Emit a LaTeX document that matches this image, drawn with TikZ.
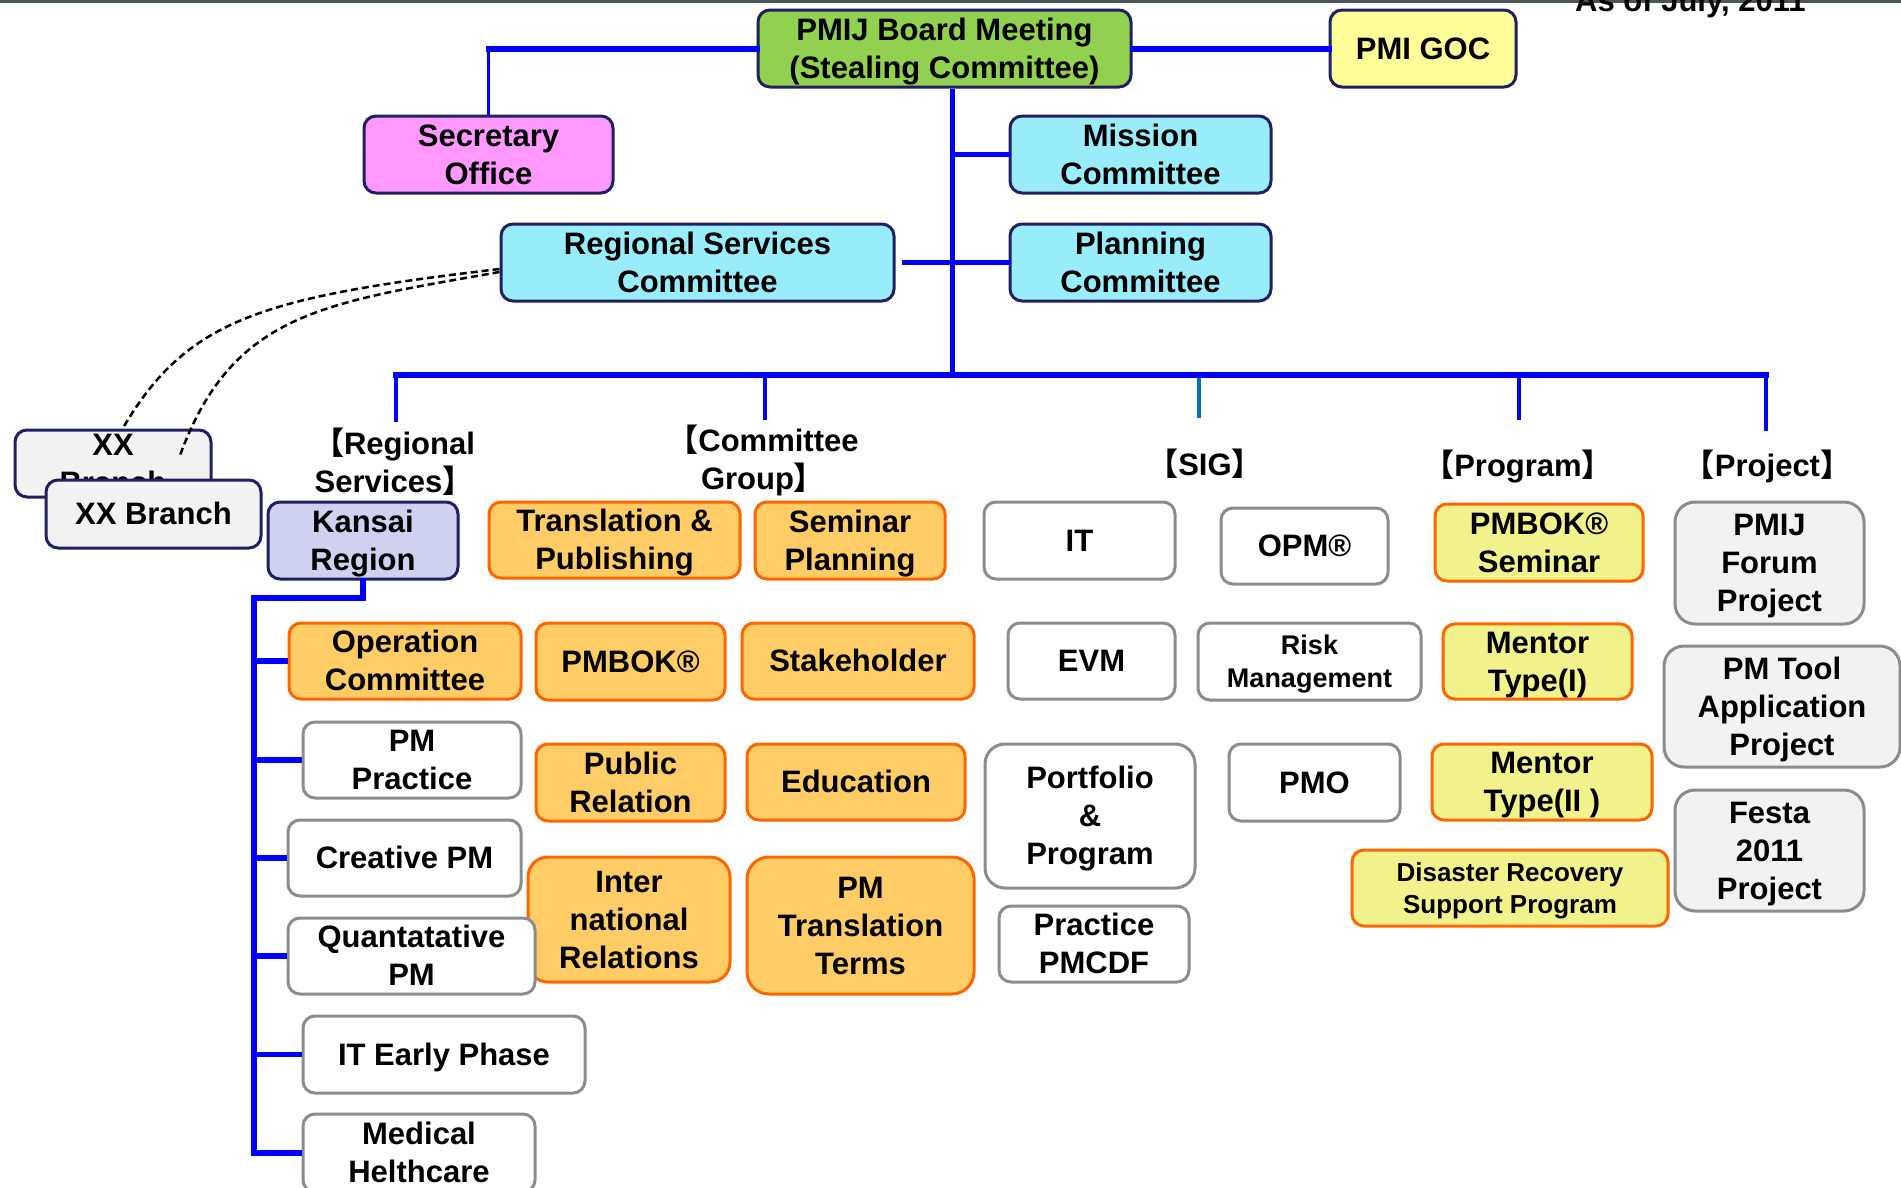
\documentclass[tikz,border=0pt]{standalone}
\usepackage{fontspec}
\setmainfont{Liberation Sans}
\newfontfamily\cjk{Noto Sans CJK JP}
\usetikzlibrary{calc}
\definecolor{lineblue}{HTML}{0000FF}
\definecolor{sigblue}{HTML}{0070C0}
\definecolor{navyb}{HTML}{202060}
\definecolor{boardgreen}{HTML}{92D050}
\definecolor{gocyellow}{HTML}{FFFF99}
\definecolor{secpink}{HTML}{FF99FF}
\definecolor{cyanfill}{HTML}{99ECFA}
\definecolor{lavfill}{HTML}{D0D0F0}
\definecolor{orfill}{HTML}{FFCC66}
\definecolor{orborder}{HTML}{FF6600}
\definecolor{yefill}{HTML}{F2F28C}
\definecolor{grfill}{HTML}{F2F2F2}
\definecolor{grborder}{HTML}{8C8C8C}
\definecolor{topbar}{HTML}{4A5555}
\newcommand\bxs{\rule[-0.25em]{0pt}{1.2em}}
\newcommand\mybox[7]{\node[#2,minimum width=#5pt,minimum height=#6pt] (#1) at (#3,#4) {\bxs #7\bxs};}
\tikzset{
  basebox/.style={rounded corners=12pt, line width=3pt, inner sep=0pt, align=center,
    font=\fontsize{31}{38}\selectfont\bfseries, text=black},
  greenbox/.style={basebox, draw=navyb, fill=boardgreen},
  gocbox/.style={basebox, draw=navyb, fill=gocyellow},
  pinkbox/.style={basebox, draw=navyb, fill=secpink},
  cyanbox/.style={basebox, draw=navyb, fill=cyanfill},
  xxbox/.style={basebox, draw=navyb, fill=grfill},
  lavbox/.style={basebox, draw=navyb, fill=lavfill},
  orbox/.style={basebox, draw=orborder, fill=orfill},
  yebox/.style={basebox, draw=orborder, fill=yefill},
  whbox/.style={basebox, draw=grborder, fill=white},
  prbox/.style={basebox, draw=grborder, fill=grfill, rounded corners=20pt},
  smallfont/.style={font=\fontsize{27}{33}\selectfont\bfseries},
  tinyfont/.style={font=\fontsize{26}{32}\selectfont\bfseries},
  lab/.style={align=center, inner sep=0pt, font=\fontsize{31}{38}\selectfont\bfseries, text=black},
  conn/.style={draw=lineblue, line width=5pt, line cap=rect},
  connthick/.style={draw=lineblue, line width=6pt, line cap=rect},
  connthin/.style={draw=lineblue, line width=3.5pt},
  busline/.style={draw=lineblue, line width=6pt, line cap=rect},
  dropline/.style={draw=lineblue, line width=4.5pt},
  kline/.style={draw=lineblue, line width=5.5pt, line cap=rect, line join=miter},
  dashline/.style={draw=black, line width=2.5pt, dash pattern=on 7pt off 4pt},
}
\begin{document}
\begin{tikzpicture}[x=1pt,y=-1pt]
\useasboundingbox (0,0) rectangle (1901,1187);
\fill[white] (0,0) rectangle (1901,1187);
\fill[topbar] (0,0) rectangle (1901,2.5);
\node[lab, anchor=base west] (asof) at (1575,11.5) {As of July, 2011};

% top level
\mybox{board}{greenbox}{944.5}{48.5}{373}{77}{PMIJ Board Meeting\\(Stealing Committee)}
\mybox{goc}{gocbox}{1423}{48.5}{186}{77}{PMI GOC}
\mybox{sec}{pinkbox}{488.5}{154.5}{249}{77}{Secretary\\Office}
\mybox{mission}{cyanbox}{1140.5}{154.5}{261}{77}{Mission\\Committee}
\mybox{rsc}{cyanbox}{697.5}{262.5}{393}{77}{Regional Services\\Committee}
\mybox{planning}{cyanbox}{1140.5}{262.5}{261}{77}{Planning\\Committee}

% branches
\node[xxbox, minimum width=196pt, minimum height=67pt] (xxback) at (113,463.5) {};
\node[lab] (xxbackt) at (xxback.center) {\bxs XX\\Branch\bxs};
\coordinate (xxe1) at (123,428);
\coordinate (xxe2) at (179,458);
\draw[dashline] ([yshift=-6.5pt]rsc.west) .. controls (262,297) and (187,319) .. (xxe1);
\draw[dashline] ([yshift=-9.5pt]rsc.west) .. controls (321,303.5) and (231.5,313) .. (xxe2);
\mybox{xxfront}{xxbox}{153.5}{514}{215}{68}{XX Branch}

% group labels
\node[lab] (lreg) at (394,462.5) {\bxs{\cjk 【}Regional\\Services{\cjk 】}\bxs};
\node[lab] (lcom) at (763,459.5) {\bxs{\cjk 【}Committee\\Group{\cjk 】}\bxs};
\node[lab] (lsig) at (1205,465) {\bxs{\cjk 【}SIG{\cjk 】}\bxs};
\node[lab] (lprog) at (1518,466) {\bxs{\cjk 【}Program{\cjk 】}\bxs};
\node[lab] (lproj) at (1767.5,466) {\bxs{\cjk 【}Project{\cjk 】}\bxs};

% row 1
\mybox{kansai}{lavbox}{363}{540.5}{190}{77}{Kansai\\Region}
\mybox{transpub}{orbox}{614.5}{540}{251}{76}{Translation \&\\Publishing}
\mybox{seminar}{orbox}{850}{540.5}{190}{77}{Seminar\\Planning}
\mybox{it}{whbox}{1079.5}{540.5}{191}{77}{IT}
\mybox{opm}{whbox}{1304.5}{546}{167}{76}{OPM®}
\mybox{pmbsem}{yebox}{1539}{542.5}{208}{77}{PMBOK®\\Seminar}
\mybox{forum}{prbox}{1769.5}{563}{189}{122}{PMIJ\\Forum\\Project}

% row 2
\mybox{op}{orbox}{405}{661}{232}{76}{Operation\\Committee}
\mybox{pmbok}{orbox}{630.5}{661.5}{189}{77}{PMBOK®}
\mybox{stake}{orbox}{858}{661}{232}{76}{Stakeholder}
\mybox{evm}{whbox}{1091.5}{661}{167}{76}{EVM}
\mybox{risk}{whbox,smallfont}{1309.5}{661.5}{223}{77}{Risk\\Management}
\mybox{mentor1}{yebox}{1537.5}{661.5}{189}{75}{Mentor\\Type(I)}
\mybox{pmtool}{prbox}{1782}{706.5}{236}{121}{PM Tool\\Application\\Project}

% row 3
\mybox{pmp}{whbox}{412}{760}{218}{76}{PM\\Practice}
\mybox{public}{orbox}{630.5}{782.5}{189}{77}{Public\\Relation}
\mybox{edu}{orbox}{856}{782}{218}{76}{Education}
\mybox{portfolio}{whbox,rounded corners=20pt}{1090}{816}{210}{144}{Portfolio\\\&\\Program}
\mybox{pmo}{whbox}{1314.5}{782.5}{171}{77}{PMO}
\mybox{mentor2}{yebox}{1542}{782}{220}{76}{Mentor\\Type(II )}
\mybox{festa}{prbox}{1769.5}{850.5}{189}{121}{Festa\\2011\\Project}

% row 4+
\mybox{cre}{whbox}{404.5}{858}{233}{76}{Creative PM}
\mybox{inter}{orbox,rounded corners=20pt}{629}{919.5}{202}{125}{Inter\\national\\Relations}
\mybox{pmtt}{orbox,rounded corners=22pt}{860.5}{925.5}{227}{137}{PM\\Translation\\Terms}
\mybox{pmcdf}{whbox}{1094}{944}{190}{76}{Practice\\PMCDF}
\mybox{disaster}{yebox,tinyfont}{1510}{888}{316}{76}{Disaster Recovery\\Support Program}
\mybox{qua}{whbox}{411.5}{956}{247}{76}{Quantatative\\PM}
\mybox{ite}{whbox}{444}{1054.5}{282}{77}{IT Early Phase}
\mybox{med}{whbox}{419}{1153}{232}{78}{Medical\\Helthcare}

% connectors top
\coordinate (jsec) at (sec.north |- board.west);
\draw[connthick] (board.west) -- (jsec);
\draw[connthin] (jsec) -- (sec.north);
\draw[connthick] (board.east) -- (goc.west);
\coordinate (tb) at (952,375);
\draw[conn, line cap=butt] (board.south -| tb) -- (tb);
\draw[conn] (tb |- mission.west) -- (mission.west);
\draw[conn] ([xshift=9pt]rsc.east) -- (planning.west);

% bus and drops
\coordinate (b1) at (396,375);
\coordinate (b2) at (765,375);
\coordinate (b3) at (1199,375);
\coordinate (b4) at (1519,375);
\coordinate (b5) at (1766,375);
\coordinate (e1) at (396,422);
\coordinate (e2) at (765,420);
\coordinate (e3) at (1199,418);
\coordinate (e4) at (1519,420);
\coordinate (e5) at (1766,431);
\draw[dropline] (b1) -- (e1);
\draw[dropline] (b2) -- (e2);
\draw[dropline, draw=sigblue] (b3) -- (e3);
\draw[dropline] (b4) -- (e4);
\draw[dropline] (b5) -- (e5);
\draw[busline] (b1) -- (b5);

% Kansai tree
\coordinate (kv) at (254,598);
\draw[kline] (kansai.south) |- (kv) -- (kv |- med.west);
\foreach \n in {op,pmp,cre,qua,ite,med}
  \draw[kline, line cap=butt] (kv |- \n.west) -- (\n.west);
\end{tikzpicture}
\end{document}
